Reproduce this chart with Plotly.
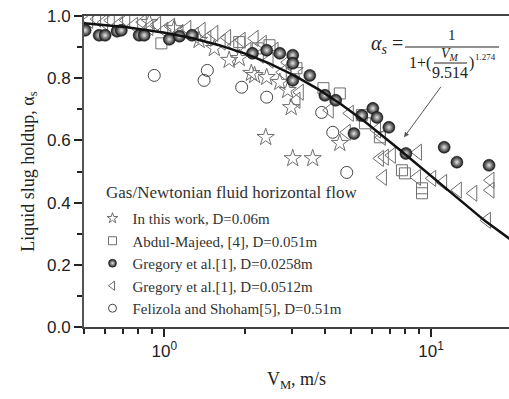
import numpy as np
import plotly.graph_objects as go

# ---------------- data ----------------
star_v = [0.879, 1.09, 1.35, 1.54, 1.75, 1.91, 2.12, 2.18, 2.42, 2.71, 2.90, 2.99, 3.08, 2.40, 3.03, 3.60, 4.55]
star_a = [0.980, 0.960, 0.922, 0.896, 0.858, 0.864, 0.816, 0.809, 0.803, 0.787, 0.761, 0.706, 0.825, 0.610, 0.542, 0.542, 0.591]

square_v = [0.975, 1.91, 2.24, 2.48, 3.13, 3.95, 4.55, 5.50, 5.65, 6.43, 7.78, 7.98, 9.25, 9.25]
square_a = [0.912, 0.916, 0.896, 0.906, 0.832, 0.768, 0.751, 0.681, 0.655, 0.610, 0.504, 0.494, 0.446, 0.430]

sphere_v = [0.505, 0.57, 0.60, 0.665, 0.69, 0.805, 0.841, 1.044, 1.14, 1.27, 2.14, 2.42, 2.71, 3.03, 3.03, 3.03,
            3.51, 4.0, 4.39, 5.5, 6.05, 6.27, 5.14, 6.95, 8.05, 11.2, 12.5, 16.5]
sphere_a = [0.954, 0.938, 0.938, 0.951, 0.954, 0.938, 0.938, 0.925, 0.935, 0.938, 0.880, 0.890, 0.880, 0.874, 0.848, 0.793,
            0.809, 0.745, 0.729, 0.680, 0.703, 0.674, 0.622, 0.642, 0.558, 0.578, 0.530, 0.520]

tri_v = [0.523, 0.56, 0.595, 0.63, 0.677, 0.72, 0.771, 0.83, 0.879, 0.94, 1.0, 1.06, 1.14, 1.22, 1.30, 1.38, 1.45,
         1.54, 1.64, 1.72, 1.83, 1.95, 2.05, 2.18, 2.28, 2.34, 2.48, 2.59, 2.78, 2.90, 3.13, 3.22, 4.17, 4.96,
         4.83, 6.27, 6.54, 6.43, 6.71, 6.60, 7.13, 8.93, 8.86, 10.1, 11.1, 12.6, 14.4, 16.7, 16.7, 16.2]
tri_a = [0.986, 0.990, 0.980, 0.986, 0.973, 0.986, 0.970, 0.980, 0.963, 0.973, 0.954, 0.967, 0.947, 0.960, 0.938,
         0.954, 0.928, 0.944, 0.916, 0.931, 0.906, 0.922, 0.890, 0.928, 0.874, 0.912, 0.858, 0.890, 0.819, 0.851,
         0.729, 0.755, 0.697, 0.687, 0.626, 0.633, 0.610, 0.542, 0.546, 0.481, 0.552, 0.562, 0.481, 0.478, 0.465,
         0.440, 0.430, 0.472, 0.440, 0.343]

circle_v = [0.917, 1.41, 1.45, 1.95, 2.42, 3.89, 4.28, 4.83]
circle_a = [0.809, 0.793, 0.825, 0.771, 0.739, 0.690, 0.626, 0.497]

fit_vm0 = 9.514
fit_n = 1.274

legend_labels = ["In this work, D=0.06m", "Abdul-Majeed, [4], D=0.051m", "Gregory et al.[1], D=0.0258m",
                 "Gregory et al.[1], D=0.0512m", "Felizola and Shoham[5], D=0.51m"]
y_ticks = [0.0, 0.2, 0.4, 0.6, 0.8, 1.0]
y_tick_text = ["0.0", "0.2", "0.4", "0.6", "0.8", "1.0"]
x_ticks = [1, 10]
x_tick_text = ["10<sup>0</sup>", "10<sup>1</sup>"]

# ---------------- figure ----------------
fig = go.Figure()
GRAY = "#6f6f6f"
SPHERE = dict(symbol="circle", color="#151515", line=dict(color="#111", width=0.5),
              gradient=dict(type="radial", color="#e6e6e6"))

styles = {  # legend index -> (symbol, size, color)
    0: ("star-open", 13, GRAY),
    1: ("square-open", 11, GRAY),
    3: ("triangle-left-open", 14, GRAY),
    4: ("circle-open", 12, "#444"),
}

def add_open(v, a, idx):
    sym, size, col = styles[idx]
    fig.add_trace(go.Scatter(x=v, y=a, mode="markers", showlegend=False,
                             marker=dict(symbol=sym, size=size, color=col, line=dict(color=col, width=1))))

add_open(circle_v, circle_a, 4)
add_open(star_v, star_a, 0)
add_open(square_v, square_a, 1)
add_open(tri_v, tri_a, 3)
fig.add_trace(go.Scatter(x=sphere_v, y=sphere_a, mode="markers", showlegend=False,
                         marker=dict(size=12, **SPHERE)))

vv = np.logspace(np.log10(0.5), np.log10(20), 200)
fig.add_trace(go.Scatter(x=vv, y=1 / (1 + (vv / fit_vm0) ** fit_n), mode="lines",
                         line=dict(color="#111", width=2.5), showlegend=False))

# legend entries (small symbols, as in the reference key)
for i, lab in enumerate(legend_labels):
    if i == 2:
        mk = dict(size=8, **SPHERE)
    else:
        sym, size, col = styles[i]
        mk = dict(symbol=sym, size=8, color=col, line=dict(color=col, width=1))
    fig.add_trace(go.Scatter(x=[None], y=[None], mode="markers", name=lab, marker=mk))

fig.update_layout(
    width=509, height=399,
    margin=dict(l=84, r=0, t=16, b=72),
    paper_bgcolor="white", plot_bgcolor="white",
    showlegend=True,
    legend=dict(x=0.02, xanchor="left", y=0.402, yanchor="top", bgcolor="rgba(0,0,0,0)",
                font=dict(family="Liberation Serif", size=15, color="#333"),
                tracegroupgap=0),
    font=dict(family="Liberation Sans", color="#222"),
)
fig.update_xaxes(type="log", range=[np.log10(0.5), np.log10(19.6)],
                 tickvals=x_ticks, ticktext=x_tick_text, ticks="outside", ticklen=8, tickwidth=2,
                 tickcolor="#222", showline=True, linecolor="#444", linewidth=2, mirror=True,
                 showgrid=False, zeroline=False,
                 minor=dict(ticks="outside", ticklen=5, tickwidth=2, tickcolor="#222",
                            tickvals=[0.5, 0.6, 0.7, 0.8, 0.9, 2, 3, 4, 5, 6, 7, 8, 9], showgrid=False),
                 tickfont=dict(family="Liberation Sans", size=17, color="#222"),
                 title=dict(text="V<sub>M</sub>, m/s", font=dict(family="Liberation Serif", size=18, color="#222"),
                            standoff=12))
fig.update_yaxes(range=[0, 1.0], tickvals=y_ticks, ticktext=y_tick_text, ticks="outside", ticklen=8, tickwidth=2,
                 tickcolor="#222", showline=True, linecolor="#555", linewidth=2, showgrid=False, zeroline=False,
                 minor=dict(ticks="outside", ticklen=5, tickwidth=2, tickcolor="#222", dtick=0.1, showgrid=False),
                 tickfont=dict(family="Liberation Sans", size=17, color="#222"),
                 title=dict(text="Liquid slug holdup, α<sub>s</sub>",
                            font=dict(family="Liberation Serif", size=18, color="#222"), standoff=8))

# legend heading
fig.add_annotation(text="Gas/Newtonian fluid horizontal flow", xref="paper", yref="paper",
                   x=(104 - 84) / 425, y=(327 - 192) / 311, xanchor="left", yanchor="middle", showarrow=False,
                   font=dict(family="Liberation Serif", size=17, color="#333"))

# formula
def pa(text, px, py, size, xanchor="center"):
    fig.add_annotation(text=text, xref="paper", yref="paper", x=(px - 84) / 425, y=(327 - py) / 311,
                       xanchor=xanchor, yanchor="middle", showarrow=False,
                       font=dict(family="Liberation Serif", size=size, color="#222"))

pa("<i>α<sub>s</sub></i> =", 387, 45, 20)
pa("1", 452, 35, 15)
pa("1+(", 433, 63, 16, xanchor="right")
pa("<i>V<sub>M</sub></i>", 450, 55, 14)
pa("9.514", 450, 72, 16)
pa(")", 467, 63, 16, xanchor="left")
pa("1.274", 473, 57, 9, xanchor="left")
for x0, x1, yy in [(405, 499, 47), (434, 467, 63)]:
    fig.add_shape(type="line", xref="paper", yref="paper", x0=(x0 - 84) / 425, x1=(x1 - 84) / 425,
                  y0=(327 - yy) / 311, y1=(327 - yy) / 311, line=dict(color="#222", width=1))

# arrow
fig.add_annotation(x=np.log10(7.92), y=0.61, ax=38, ay=-52, text="", showarrow=True,
                   arrowhead=2, arrowsize=1, arrowwidth=1, arrowcolor="#555", standoff=0)

fig.write_html("out.html")
